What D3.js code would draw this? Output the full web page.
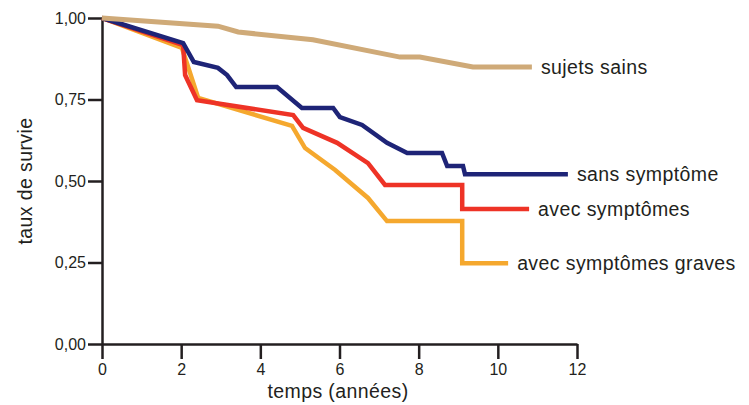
<!DOCTYPE html>
<html>
<head>
<meta charset="utf-8">
<script src="https://cdn.jsdelivr.net/npm/d3@7"></script>
<style>
  body { margin: 0; background: #fff; }
  text { font-family: "Liberation Sans", Arial, sans-serif; fill: #231f20; }
</style>
</head>
<body>
<div id="chart"></div>
<script>
// survival curves (time in years, survival rate)
const sainsT = [0, 2.93, 3.44, 5.33, 7.53, 8.03, 9.37, 10.86];
const sainsV = [1.0, 0.975, 0.957, 0.933, 0.880, 0.880, 0.850, 0.850];

const sansT = [0, 2.05, 2.32, 2.93, 3.16, 3.39, 4.42, 5.05, 5.84, 6.01, 6.57, 7.20, 7.71, 8.59, 8.72, 9.12, 9.17, 11.77];
const sansV = [1.0, 0.923, 0.865, 0.847, 0.825, 0.788, 0.788, 0.724, 0.724, 0.696, 0.672, 0.617, 0.586, 0.586, 0.546, 0.546, 0.521, 0.521];

const avecT = [0, 2.05, 2.10, 2.40, 4.83, 5.08, 5.94, 6.72, 7.15, 9.10, 9.10, 10.79];
const avecV = [1.0, 0.917, 0.825, 0.748, 0.702, 0.663, 0.617, 0.555, 0.488, 0.488, 0.414, 0.414];

const gravesT = [0, 2.02, 2.43, 4.80, 5.13, 5.89, 6.72, 7.20, 9.10, 9.10, 10.26];
const gravesV = [1.0, 0.908, 0.755, 0.669, 0.601, 0.534, 0.448, 0.377, 0.377, 0.248, 0.248];

const seriesNames = ['avec symptômes graves', 'avec symptômes', 'sans symptôme', 'sujets sains'];
const xTicks = [0, 2, 4, 6, 8, 10, 12];
const yTicks = [0, 0.25, 0.5, 0.75, 1];

const series = [
  {name: seriesNames[0], t: gravesT, v: gravesV, color: '#f5a82e'},
  {name: seriesNames[1], t: avecT, v: avecV, color: '#ee3326'},
  {name: seriesNames[2], t: sansT, v: sansV, color: '#1e2477'},
  {name: seriesNames[3], t: sainsT, v: sainsV, color: '#cfaa78'}
];

const W = 749, H = 405;
const margin = {left: 102, right: 172, top: 18, bottom: 61};
const width = W - margin.left - margin.right;
const height = H - margin.top - margin.bottom;

const x = d3.scaleLinear().domain([0, 12]).range([0, width]);
const y = d3.scaleLinear().domain([0, 1]).range([height, 0]);

const fr = d3.formatLocale({decimal: ',', thousands: ' ', grouping: [3], currency: ['', '']});

const svg = d3.select('#chart').append('svg')
    .attr('width', W)
    .attr('height', H)
  .append('g')
    .attr('transform', 'translate(' + margin.left + ',' + margin.top + ')');

// axes
const xAxis = svg.append('g')
    .attr('transform', 'translate(0,' + height + ')')
    .call(d3.axisBottom(x).tickValues(xTicks).tickSize(15).tickSizeOuter(0).tickPadding(5));

const yAxis = svg.append('g')
    .call(d3.axisLeft(y).tickValues(yTicks).tickSize(14).tickSizeOuter(0).tickPadding(2)
      .tickFormat(fr.format('.2f')));

[xAxis, yAxis].forEach(a => {
  a.selectAll('path, line').attr('stroke', '#231f20').attr('stroke-width', 2.5);
  a.selectAll('text').attr('font-size', '16px').attr('fill', '#231f20')
    .attr('font-family', '"Liberation Sans", Arial, sans-serif');
});

// curves
const line = d3.line()
    .x(d => x(d[0]))
    .y(d => y(d[1]));

series.forEach(s => {
  const pts = s.t.map((t, i) => [t, s.v[i]]);
  svg.append('path')
      .datum(pts)
      .attr('d', line)
      .attr('fill', 'none')
      .attr('stroke', s.color)
      .attr('stroke-width', s.name === 'sujets sains' ? 5 : 4.5)
      .attr('stroke-linejoin', 'miter');

  // label at the end of each curve
  const last = pts[pts.length - 1];
  svg.append('text')
      .attr('x', x(last[0]) + 9)
      .attr('y', y(last[1]))
      .attr('dy', '0.35em')
      .attr('font-size', '19.5px')
      .attr('letter-spacing', '0.4px')
      .text(s.name);
});

// axis titles
svg.append('text')
    .attr('x', 338 - margin.left)
    .attr('y', 398 - margin.top)
    .attr('text-anchor', 'middle')
    .attr('font-size', '19.5px')
    .attr('letter-spacing', '0.4px')
    .text('temps (années)');

svg.append('text')
    .attr('transform', 'translate(' + (32 - margin.left) + ',' + (181 - margin.top) + ') rotate(-90)')
    .attr('text-anchor', 'middle')
    .attr('font-size', '19.5px')
    .attr('letter-spacing', '0.4px')
    .text('taux de survie');
</script>
</body>
</html>
